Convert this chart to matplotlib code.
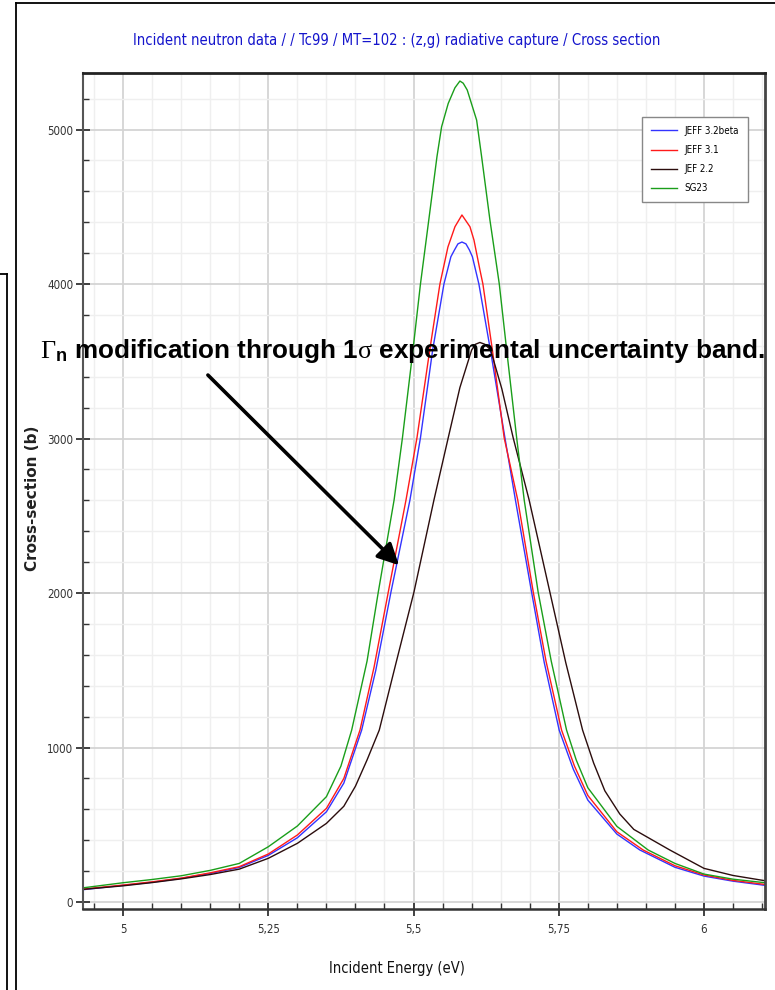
import matplotlib
matplotlib.use('Agg')
import matplotlib.pyplot as plt
from matplotlib.lines import Line2D
from matplotlib.ticker import MultipleLocator

plt.rcParams['mathtext.fontset'] = 'custom'
plt.rcParams['mathtext.rm'] = 'Liberation Serif'
plt.rcParams['mathtext.bf'] = 'Liberation Sans:bold'
plt.rcParams['mathtext.it'] = 'Liberation Serif:italic'

narrow = dict(family=['DejaVu Sans'], stretch='condensed')

# capture cross section of the Tc99 resonance near 5.6 eV, read per evaluation
e_jeff32 = [4.931, 5.0, 5.05, 5.1, 5.15, 5.2, 5.25, 5.3, 5.35, 5.38, 5.4107, 5.435,
            5.4611, 5.4938, 5.5119, 5.5329, 5.5523, 5.5643, 5.5704, 5.5764, 5.5833,
            5.5902, 5.5962, 5.6013, 5.6125, 5.6323, 5.6573, 5.6754, 5.7032,
            5.725, 5.7507, 5.775, 5.80, 5.85, 5.8895, 5.95, 6.0, 6.05, 6.105]
xs_jeff32 = [80, 108, 128, 153, 185, 224, 302, 416, 584, 770, 1113, 1500,
             2006, 2602, 3005, 3573, 4000, 4177, 4220, 4260, 4272,
             4260, 4220, 4177, 4000, 3573, 3005, 2602, 2006,
             1550, 1113, 860, 660, 440, 337, 225, 168, 135, 108]

e_jeff31 = [4.931, 5.0, 5.05, 5.1, 5.15, 5.2, 5.25, 5.3, 5.35, 5.38, 5.4078, 5.432,
            5.4565, 5.4870, 5.5059, 5.5279, 5.5454, 5.5592, 5.5713, 5.5833,
            5.5971, 5.6040, 5.6143, 5.6194, 5.6357, 5.6560, 5.6794, 5.7061, 5.728,
            5.7548, 5.777, 5.80, 5.85, 5.8952, 5.95, 6.0, 6.05, 6.105]
xs_jeff31 = [84, 110, 131, 155, 189, 229, 311, 434, 606, 800, 1113, 1520,
             2006, 2602, 3005, 3573, 4000, 4240, 4371, 4447,
             4371, 4285, 4091, 4000, 3573, 3005, 2602, 2006, 1560,
             1113, 880, 690, 455, 337, 235, 175, 140, 114]

e_jef22 = [4.931, 5.0, 5.05, 5.1, 5.15, 5.2, 5.25, 5.3, 5.35, 5.38, 5.4, 5.42, 5.441,
           5.47, 5.5007, 5.5351, 5.5597, 5.5798, 5.600, 5.6065, 5.6142, 5.6228,
           5.6327, 5.6521, 5.6715, 5.699, 5.7347, 5.762, 5.791, 5.81, 5.8293,
           5.855, 5.8792, 5.9411, 6.0, 6.05, 6.105]
xs_jef22 = [82, 105, 126, 150, 178, 213, 283, 380, 509, 620, 750, 920, 1113,
            1550, 2006, 2602, 3005, 3330, 3573, 3610, 3622, 3610,
            3573, 3320, 3005, 2602, 2006, 1550, 1113, 900, 720,
            570, 470, 337, 218, 172, 138]

e_sg23 = [4.931, 5.0, 5.05, 5.1, 5.15, 5.2, 5.25, 5.3, 5.35, 5.375, 5.3935, 5.42,
          5.4393, 5.4665, 5.4809, 5.4990, 5.5119, 5.5262, 5.5403, 5.5483,
          5.5597, 5.5712, 5.5798, 5.5855, 5.5924, 5.6086, 5.6172, 5.6315, 5.6441,
          5.6476, 5.6603, 5.6775, 5.6905, 5.7145, 5.737, 5.7634, 5.78, 5.80, 5.85,
          5.9038, 5.95, 6.0, 6.05, 6.105]
xs_sg23 = [92, 125, 146, 170, 205, 250, 358, 492, 682, 880, 1113, 1560,
           2006, 2602, 3005, 3573, 4000, 4414, 4824, 5018,
           5169, 5270, 5314, 5300, 5256, 5061, 4824, 4414, 4091,
           4000, 3573, 3005, 2602, 2006, 1560, 1113, 920, 740, 490,
           337, 250, 181, 148, 125]

series_names = ['JEFF 3.2beta', 'JEFF 3.1', 'JEF 2.2', 'SG23']
series_colors = ['#3333ff', '#ff1a1a', '#2b0d0d', '#1a9e1a']

x_ticks = [5.0, 5.25, 5.5, 5.75, 6.0]
x_tick_labels = ['5', '5,25', '5,5', '5,75', '6']
y_ticks = [0, 1000, 2000, 3000, 4000, 5000]
y_tick_labels = ['0', '1000', '2000', '3000', '4000', '5000']

fig = plt.figure(figsize=(7.75, 9.9), dpi=100)
ax = fig.add_axes([83 / 775, 1 - 909 / 990, 682 / 775, 836 / 990])

curves = [(e_jeff32, xs_jeff32), (e_jeff31, xs_jeff31), (e_jef22, xs_jef22), (e_sg23, xs_sg23)]
for (e, xs), name, col in zip(curves, series_names, series_colors):
    ax.plot(e, xs, color=col, lw=1.0, label=name)

ax.set_xlim(4.931, 6.105)
ax.set_ylim(-45, 5366)
ax.set_xticks(x_ticks)
ax.set_xticklabels(x_tick_labels)
ax.set_yticks(y_ticks)
ax.set_yticklabels(y_tick_labels)
ax.xaxis.set_minor_locator(MultipleLocator(0.05))
ax.yaxis.set_minor_locator(MultipleLocator(200))

ax.set_axisbelow(True)
ax.grid(which='major', color='#d4d4d4', lw=1.3)
ax.grid(which='minor', color='#efefef', lw=1.0)
ax.tick_params(which='major', direction='inout', length=10, width=1.3,
               colors='#333333', labelsize=8.3, pad=2)
ax.tick_params(which='minor', direction='in', length=4, width=1.0, colors='#333333')
ax.tick_params(axis='x', which='major', pad=5)
for lbl in ax.get_xticklabels() + ax.get_yticklabels():
    lbl.set_family(narrow['family'])
    lbl.set_stretch(narrow['stretch'])

ax.spines['left'].set_color('#555555')
ax.spines['left'].set_linewidth(1.5)
ax.spines['bottom'].set_color('#333333')
ax.spines['bottom'].set_linewidth(1.8)
ax.spines['top'].set_color('#222222')
ax.spines['top'].set_linewidth(2.0)
ax.spines['right'].set_color('#444444')
ax.spines['right'].set_linewidth(2.0)

leg = ax.legend(loc='upper left', bbox_to_anchor=(642 / 775, 1 - 117 / 990),
                bbox_transform=fig.transFigure, borderaxespad=0,
                prop={'family': narrow['family'], 'stretch': narrow['stretch'], 'size': 7},
                handlelength=2.7, handletextpad=0.8, labelspacing=0.95, borderpad=0.9,
                fancybox=False, edgecolor='#888888', framealpha=1)
leg.get_frame().set_linewidth(1.0)

fig.text(397 / 775, 1 - 40 / 990,
         'Incident neutron data / / Tc99 / MT=102 : (z,g) radiative capture / Cross section',
         ha='center', va='center', color='#1515cc', fontsize=10.6, **narrow)
fig.text(397 / 775, 1 - 968 / 990, 'Incident Energy (eV)', ha='center', va='center',
         color='#111111', fontsize=10.5, **narrow)
fig.text(33 / 775, 1 - 498 / 990, 'Cross-section (b)', rotation=90, ha='center',
         va='center', fontsize=11, fontweight='bold', family='DejaVu Sans', color='#222222')

fig.text(40 / 775, 1 - 358 / 990,
         r'$\Gamma_{\mathbf{n}}$ modification through 1$\mathrm{\sigma}$ experimental uncertainty band.',
         ha='left', va='baseline', fontsize=18.8, fontweight='bold', family='Liberation Sans')

ax.annotate('', xy=(5.475, 2180), xytext=(5.146, 3411),
            arrowprops=dict(arrowstyle='-|>', lw=2.6, color='black',
                            mutation_scale=32, shrinkA=0, shrinkB=0))

# window frame edges on the left of the plot
frame_kw = dict(color='black', lw=1.3, transform=fig.transFigure)
fig.add_artist(Line2D([16 / 775, 16 / 775], [0, 1 - 3 / 990], **frame_kw))
fig.add_artist(Line2D([16 / 775, 1], [1 - 3 / 990, 1 - 3 / 990], **frame_kw))
fig.add_artist(Line2D([0, 7 / 775], [1 - 274 / 990, 1 - 274 / 990], **frame_kw))
fig.add_artist(Line2D([7 / 775, 7 / 775], [0, 1 - 274 / 990], **frame_kw))

fig.savefig('out.png', dpi=100)
